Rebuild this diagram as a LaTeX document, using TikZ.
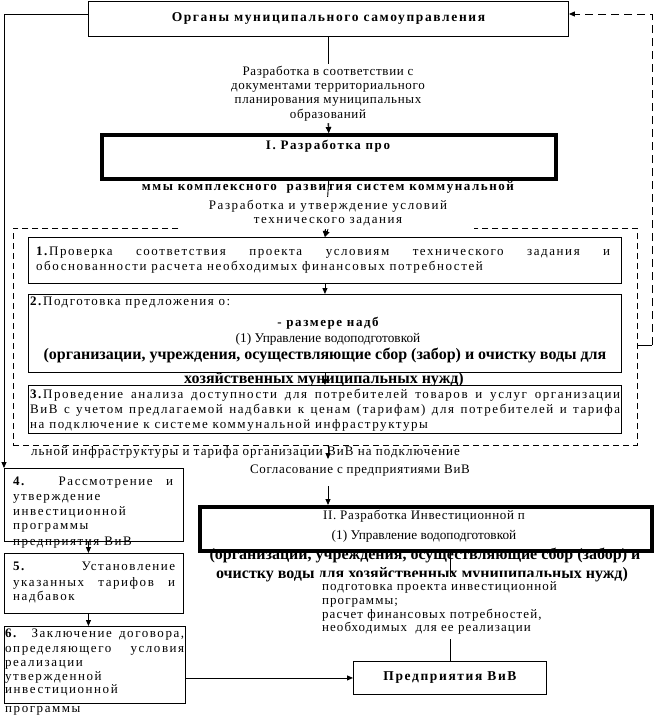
\documentclass[tikz,border=0pt]{standalone}
\usepackage{fontspec}
\setmainfont{Liberation Serif}
\newfontfamily\lsp{Liberation Serif}[LetterSpace=12]
\newfontfamily\lspa{Liberation Serif}[LetterSpace=5]
\newfontfamily\lspb{Liberation Serif}[LetterSpace=8]
\usetikzlibrary{arrows.meta}
\tikzset{
  box/.style={draw, line width=0.9pt, fill=white, inner sep=0pt, anchor=north west},
  thickbox/.style={draw, line width=3.5pt, fill=white, inner sep=0pt, anchor=north west},
  arr/.style={line width=0.9pt, -{Triangle[length=6pt,width=5pt]}},
  con/.style={line width=0.9pt},
  txt/.style={inner sep=0pt, font=\lsp\fontsize{13}{14.3}\selectfont},
  atxt/.style={inner sep=0pt, font=\lspa\fontsize{13}{14.3}\selectfont},
  btxt/.style={inner sep=0pt, font=\lsp\bfseries\fontsize{13}{14.3}\selectfont},
  ptxt/.style={inner sep=0pt, font=\fontsize{13.3}{16}\selectfont},
  pbtxt/.style={inner sep=0pt, font=\bfseries\fontsize{16}{18}\selectfont},
  dashbox/.style={draw, line width=0.9pt, dash pattern=on 6pt off 4pt, inner sep=0pt, anchor=north west},
  fbdash/.style={dash pattern=on 8pt off 5pt},
}
\begin{document}
\begin{tikzpicture}[x=1pt,y=-1pt]
\useasboundingbox (0,0) rectangle (654,718);
% dashed group
\node[dashbox, minimum width=624pt, minimum height=217pt] (dr) at (13,228) {};
% top box
\node[box, minimum width=480pt, minimum height=35pt, font=\lsp\bfseries\fontsize{13.5}{15}\selectfont] (top) at (88,1) {Органы муниципального самоуправления};
% box I
\node[thickbox, minimum width=454pt, minimum height=44pt] (bI) at (100,133) {};
% box 1, 2
\node[box, minimum width=593pt, minimum height=46pt] (b1) at (28,237) {};
\node[box, minimum width=593pt, minimum height=78pt] (b2) at (28,294) {};
% connectors: left and feedback
\draw[arr] ([yshift=4.5pt]top.west) -| (4,468) coordinate (b4in);
\coordinate (fbb) at (652,345);
\coordinate (fbt) at (652,14);
\draw[con] (dr.east |- fbb) -- (fbb);
\draw[arr, fbdash] (fbb) -- (fbt) -- (top.east |- fbt);
% top -> I
\draw[arr] (top.south) -- (bI.north);
\node[atxt, fill=white, align=center, inner sep=2pt] (l1) at (328,93.5)
  {Разработка в соответствии с\\документами территориального\\планирования муниципальных\\образований};
\draw[arr] (l1.south) -- (bI.north);
% I text
\node[btxt, anchor=mid] (tI) at (328,147) {I. Разработка про};
\draw[arr] (bI.south) -- (b1.north);
\node[btxt, anchor=mid] (tIb) at (328,188) {ммы комплексного\ \ развития систем коммунальной};
\node[txt, fill=white, align=center, minimum width=292pt, minimum height=32pt] (l2) at (328,213)
  {Разработка и утверждение условий\\технического задания};
\draw[arr] (l2.south) -- (b1.north);
% box 1 texts
\node[txt, anchor=mid west] (t11) at (36,253) {\makebox[574pt][s]{\textbf{1.}Проверка соответствия проекта условиям технического задания и}};
\node[txt, anchor=mid west] (t12) at (36,268) {обоснованности расчета необходимых финансовых потребностей};
\draw[arr] (b1.south) -- (b2.north);
% box 2 texts
\node[txt, anchor=mid west] (t21) at (30,303) {\textbf{2.}Подготовка предложения о:};
\node[btxt, anchor=mid] (t22) at (328,324) {- размере надб};
\node[ptxt, anchor=mid] (t23) at (328,340) {(1) Управление водоподготовкой};
\node[pbtxt, anchor=mid] (t24) at (325,357) {(организации, учреждения, осуществляющие сбор (забор) и очистку воды для};
\node[pbtxt, anchor=mid] (t25) at (324,381) {хозяйственных муниципальных нужд)};
% box 3
\node[box, minimum width=593pt, minimum height=48pt] (b3) at (28,385) {};
\draw[arr] (b2.south) -- (b3.north);
\node[txt, anchor=mid west] (t31) at (30,396) {\makebox[590pt][s]{\textbf{3.}Проведение анализа доступности для потребителей товаров и услуг организации}};
\node[txt, anchor=mid west] (t32) at (30,411) {\makebox[590pt][s]{ВиВ с учетом предлагаемой надбавки к ценам (тарифам) для потребителей и тарифа}};
\node[txt, anchor=mid west] (t33) at (30,426) {на подключение к системе коммунальной инфраструктуры};
% below group
\node[inner sep=0pt, font=\lspb\fontsize{13}{14}\selectfont, anchor=mid west] (t4a) at (31,453) {льной инфраструктуры и тарифа организации ВиВ на подключение};
\coordinate (c4a) at (328,459);
\draw[arr] (dr.south -| c4a) -- (c4a);
\node[atxt, anchor=mid] (l3) at (360,471) {Согласование с предприятиями ВиВ};
% box II
\node[thickbox, minimum width=452pt, minimum height=44pt] (bII) at (198,505) {};
\coordinate (c4b) at (328,486);
\draw[arr] (c4b) -- (bII.north -| c4b);
\node[atxt, anchor=mid] (tII1) at (424,517) {II. Разработка Инвестиционной п};
\node[ptxt, anchor=mid] (tII2) at (424,537) {(1) Управление водоподготовкой};
% VIV box
\node[box, minimum width=193pt, minimum height=33pt, font=\lsp\bfseries\fontsize{13.5}{15}\selectfont] (viv) at (353,661) {Предприятия ВиВ};
\draw[con] (bII.south -| viv.north) -- (viv.north);
\node[pbtxt, anchor=mid] (tII3) at (425,557) {(организации, учреждения, осуществляющие сбор (забор) и};
\node[pbtxt, anchor=mid] (tII4) at (422,576) {очистку воды для хозяйственных муниципальных нужд)};
\node[inner sep=0pt, font=\lspb\fontsize{13}{13.8}\selectfont, fill=white, align=left, anchor=north west, inner xsep=4pt, inner ysep=3pt, minimum height=62pt] (l4) at (318,577)
  {подготовка проекта инвестиционной\\программы;\\расчет финансовых потребностей,\\необходимых\ \ для ее реализации};
% boxes 4, 5, 6
\node[box, minimum width=179pt, minimum height=73pt] (b4) at (4,468) {};
\node[txt, anchor=mid west] (t41) at (13,483) {\makebox[160pt][s]{\textbf{4.} Рассмотрение и}};
\node[txt, anchor=mid west] (t42) at (13,498) {утверждение};
\node[txt, anchor=mid west] (t43) at (13,513) {инвестиционной};
\node[txt, anchor=mid west] (t44) at (13,527) {программы};
\node[txt, anchor=mid west] (t45) at (13,543) {предприятия ВиВ};
\node[box, minimum width=179pt, minimum height=60pt] (b5) at (4,553) {};
\draw[arr] ([xshift=-5.5pt]b4.south) -- ([xshift=-5.5pt]b5.north);
\node[txt, anchor=mid west] (t51) at (13,568) {\makebox[162pt][s]{\textbf{5.} Установление}};
\node[txt, anchor=mid west] (t52) at (13,584) {\makebox[162pt][s]{указанных тарифов и}};
\node[txt, anchor=mid west] (t53) at (13,598) {надбавок};
\node[box, minimum width=181pt, minimum height=77pt] (b6) at (4,626) {};
\draw[arr] ([xshift=-5.5pt]b5.south) -- ([xshift=-6.5pt]b6.north);
\node[txt, anchor=mid west] (t61) at (5,635) {\makebox[179pt][s]{\textbf{6.} Заключение договора,}};
\node[txt, anchor=mid west] (t62) at (5,650) {\makebox[179pt][s]{определяющего условия}};
\node[txt, anchor=mid west] (t63) at (5,664) {реализации};
\node[txt, anchor=mid west] (t64) at (5,678) {утвержденной};
\node[txt, anchor=mid west] (t65) at (5,691) {инвестиционной};
\node[txt, anchor=mid west] (t66) at (5,710) {программы};
\draw[arr] (b6.east |- viv.west) -- (viv.west);
\end{tikzpicture}
\end{document}
